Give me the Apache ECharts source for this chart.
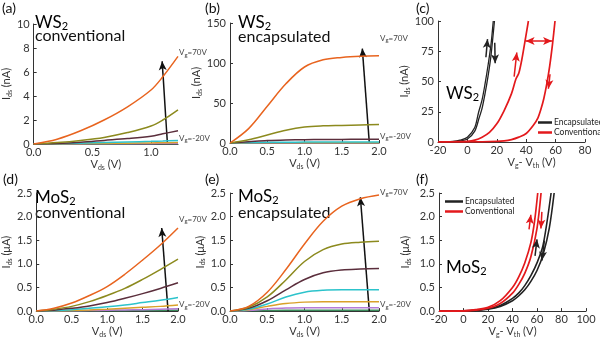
<!DOCTYPE html>
<html><head><meta charset="utf-8">
<script src="https://cdn.jsdelivr.net/npm/echarts@6/dist/echarts.min.js"></script>
<style>html,body{margin:0;padding:0;background:#fff}#c{width:600px;height:339px}</style>
</head><body><div id="c"></div>
<script>
const FONT = 'Lato, "Noto Sans", sans-serif';
const INK = '#333';

// Gate-voltage steps of the output curves (top curve first)
const vgSteps = [70, 55, 40, 25, 10, -5, -20];
const curveColors = ['#e8641f', '#8c8a1e', '#5b2e3c', '#2cc3cb', '#d9a02a', '#b57ad6', '#3c8c5c'];

// (a) WS2 conventional: Ids (nA) vs Vds (V)
const vdsA = [0, 0.2, 0.4, 0.6, 0.8, 1.0, 1.1, 1.23];
const idsA = [
  [0, 0.4, 1.1, 2.0, 3.1, 4.5, 5.6, 7.3],
  [0, 0.12, 0.3, 0.55, 0.95, 1.5, 2.0, 2.85],
  [0, 0.05, 0.15, 0.3, 0.45, 0.65, 0.85, 1.1],
  [0, 0.03, 0.07, 0.12, 0.17, 0.22, 0.25, 0.3],
  [0, 0.01, 0.03, 0.05, 0.07, 0.09, 0.1, 0.12],
  [0, 0.01, 0.01, 0.02, 0.03, 0.03, 0.04, 0.05],
  [0, 0, 0.01, 0.01, 0.01, 0.02, 0.02, 0.02]
];

// (b) WS2 encapsulated: Ids (nA) vs Vds (V)
const vdsB = [0, 0.25, 0.5, 0.75, 1.0, 1.25, 1.5, 1.75, 2.0];
const idsB = [
  [0, 18, 46, 74, 95, 104, 107, 108.5, 109],
  [0, 4, 10, 16, 20, 21.5, 22, 22.5, 23],
  [0, 1.5, 3, 3.8, 4.2, 4.4, 4.5, 4.6, 4.7],
  [0, 0.4, 0.8, 1.0, 1.1, 1.15, 1.2, 1.2, 1.2],
  [0, 0.2, 0.3, 0.4, 0.4, 0.4, 0.4, 0.4, 0.4],
  [0, 0.1, 0.1, 0.15, 0.15, 0.15, 0.15, 0.15, 0.15],
  [0, 0.05, 0.05, 0.05, 0.05, 0.05, 0.05, 0.05, 0.05]
];

// (d) MoS2 conventional: Ids (uA) vs Vds (V)
const vdsD = [0, 0.25, 0.5, 0.75, 1.0, 1.25, 1.5, 1.75, 2.0];
const idsD = [
  [0, 0.06, 0.17, 0.33, 0.52, 0.78, 1.08, 1.4, 1.76],
  [0, 0.04, 0.1, 0.2, 0.33, 0.48, 0.67, 0.88, 1.1],
  [0, 0.02, 0.06, 0.11, 0.18, 0.27, 0.37, 0.48, 0.6],
  [0, 0.01, 0.03, 0.06, 0.09, 0.13, 0.18, 0.23, 0.29],
  [0, 0.005, 0.015, 0.025, 0.04, 0.06, 0.08, 0.1, 0.13],
  [0, 0.003, 0.007, 0.012, 0.018, 0.025, 0.03, 0.04, 0.05],
  [0, 0.001, 0.003, 0.005, 0.007, 0.009, 0.012, 0.015, 0.02]
];

// (e) MoS2 encapsulated: Ids (uA) vs Vds (V)
const vdsE = [0, 0.25, 0.5, 0.75, 1.0, 1.25, 1.5, 1.75, 2.0];
const idsE = [
  [0, 0.1, 0.4, 0.88, 1.42, 1.9, 2.22, 2.38, 2.46],
  [0, 0.08, 0.3, 0.66, 1.05, 1.3, 1.42, 1.46, 1.48],
  [0, 0.06, 0.22, 0.45, 0.67, 0.81, 0.87, 0.89, 0.9],
  [0, 0.04, 0.15, 0.3, 0.4, 0.44, 0.45, 0.45, 0.45],
  [0, 0.03, 0.1, 0.16, 0.19, 0.2, 0.2, 0.2, 0.2],
  [0, 0.015, 0.045, 0.065, 0.07, 0.07, 0.07, 0.07, 0.07],
  [0, 0.005, 0.015, 0.02, 0.02, 0.02, 0.02, 0.02, 0.02]
];

// (c) WS2 transfer curves: Ids (nA) vs Vg - Vth (V), forward and reverse sweeps
const cEncUpV = [-20, -10, -5, 0, 5, 7.5, 10, 12, 14, 16, 17.6];
const cEncUpI = [0.2, 0.5, 1.5, 4, 12, 24, 35, 48, 63, 80, 100];
const cEncDnV = [-20, -10, -5, 0, 5, 8, 10, 12, 14, 16, 18.4];
const cEncDnI = [0.2, 0.3, 0.8, 2.5, 9, 20, 28, 40, 54, 71, 100];
const cConUpV = [-20, -10, 0, 5, 10, 15, 20, 25, 30, 33, 35, 37, 39, 41.5];
const cConUpI = [0, 0.2, 0.5, 1.5, 4, 8, 15, 26, 40, 52, 57, 68, 82, 100];
const cConDnV = [-20, 0, 15, 25, 30, 35, 40, 45, 48, 50, 52, 54, 56, 58, 59.6];
const cConDnI = [0, 0.1, 0.3, 1, 2, 4, 7, 14, 20, 27, 36, 48, 63, 82, 100];

// (f) MoS2 transfer curves: Ids (uA) vs Vg - Vth (V)
const fEncUpV = [-20, 0, 10, 20, 30, 40, 45, 50, 55, 60, 65, 71.5];
const fEncUpI = [0, 0.005, 0.018, 0.05, 0.12, 0.27, 0.38, 0.54, 0.75, 1.02, 1.4, 2.5];
const fEncDnV = [-20, 0, 10, 20, 30, 40, 45, 50, 55, 60, 65, 70, 74];
const fEncDnI = [0, 0.005, 0.015, 0.04, 0.1, 0.22, 0.32, 0.45, 0.63, 0.86, 1.2, 1.75, 2.5];
const fConUpV = [-20, 0, 10, 20, 30, 40, 45, 50, 55, 58, 60.6];
const fConUpI = [0, 0.005, 0.03, 0.08, 0.22, 0.5, 0.72, 1.02, 1.45, 1.9, 2.5];
const fConDnV = [-20, 0, 10, 20, 30, 40, 45, 50, 55, 60, 63.3];
const fConDnI = [0, 0.005, 0.02, 0.06, 0.16, 0.38, 0.56, 0.8, 1.15, 1.75, 2.5];

// Sweep-direction arrows, in data units: [start, end]
const gateArrowA = [[1.14, 0], [1.095, 6.9]];
const gateArrowB = [[1.87, 0], [1.776, 118]];
const gateArrowD = [[1.86, 0], [1.77, 1.76]];
const gateArrowE = [[1.87, 0], [1.75, 2.41]];
const cArrowsBlack = [[[12.6, 70], [13.7, 85]], [[18.6, 82], [18.9, 65]]];
const cArrowsRed = [[[31.8, 54], [33.6, 74]], [[56.2, 56], [55.1, 44]]];
const cWindow = [[39.6, 83.5], [57.6, 83.5]];
const fArrowsBlack = [[[58.4, 1.17], [60, 1.52]], [[66, 1.49], [64, 1.07]]];
const fArrowsRed = [[[53.5, 1.73], [55, 2.04]], [[64, 2.1], [63.2, 1.75]]];

const subRich = (main, sub, color) => ({
  m: { fontSize: main, lineHeight: main + 1, verticalAlign: 'top', fontFamily: FONT, color },
  s: { fontSize: sub, lineHeight: sub + 1, verticalAlign: 'bottom', padding: [Math.round(main * 0.45), 0, 0, 0], fontFamily: FONT, color }
});

const grids = [
  { left: 30, top: 24, width: 148, height: 120 },
  { left: 230, top: 23, width: 149, height: 120 },
  { left: 438, top: 21, width: 147, height: 121 },
  { left: 30, top: 193, width: 148, height: 120 },
  { left: 230, top: 193, width: 149, height: 120 },
  { left: 439, top: 193, width: 147, height: 120 }
];

function axisBase(idx) {
  return {
    type: 'value', gridIndex: idx,
    axisLine: { show: true, onZero: false, lineStyle: { color: INK, width: 1 } },
    axisTick: { show: true, inside: true, length: 3, lineStyle: { color: INK } },
    splitLine: { show: false },
    nameTextStyle: { rich: subRich(11, 7, INK) }
  };
}
function xAxis(idx, min, max, interval, digits, name, extra) {
  return Object.assign(axisBase(idx), {
    min, max, interval,
    axisLabel: { color: INK, fontSize: 11, fontFamily: FONT, margin: 3,
      formatter: v => v.toFixed(digits) },
    name, nameLocation: 'middle', nameGap: 14
  }, extra || {});
}
function yAxis(idx, min, max, interval, digits, name, gap) {
  return Object.assign(axisBase(idx), {
    min, max, interval,
    axisLabel: { color: INK, fontSize: 11, fontFamily: FONT, margin: 4,
      formatter: v => v.toFixed(digits) },
    name, nameLocation: 'middle', nameGap: gap, nameRotate: 90
  });
}

const xAxes = [
  xAxis(0, 0, 1.23, 0.5, 1, '{m|V}{s|ds}{m| (V)}', {
    axisLabel: { color: INK, fontSize: 11, fontFamily: FONT, margin: 3, customValues: [0, 0.5, 1.0], formatter: v => v.toFixed(1) },
    axisTick: { show: true, inside: true, length: 3, lineStyle: { color: INK }, customValues: [0, 0.5, 1.0] }
  }),
  xAxis(1, 0, 2, 0.5, 1, '{m|V}{s|ds}{m| (V)}'),
  xAxis(2, -20, 80, 20, 0, '{m|V}{s|g}{m|- V}{s|th}{m| (V)}', { nameTextStyle: { rich: subRich(11, 7, INK), padding: [0, 0, 0, 40] } }),
  xAxis(3, 0, 2, 0.5, 1, '{m|V}{s|ds}{m| (V)}'),
  xAxis(4, 0, 2, 0.5, 1, '{m|V}{s|ds}{m| (V)}'),
  xAxis(5, -20, 100, 20, 0, '{m|V}{s|g}{m|- V}{s|th}{m| (V)}')
];
const yAxes = [
  yAxis(0, 0, 10, 2, 0, '{m|I}{s|ds}{m| (nA)}', 13),
  yAxis(1, 0, 150, 50, 0, '{m|I}{s|ds}{m| (nA)}', 25),
  yAxis(2, 0, 100, 25, 0, '{m|I}{s|ds}{m| (nA)}', 25),
  yAxis(3, 0, 2.5, 0.5, 1, '{m|I}{s|ds}{m| (\u03bcA)}', 20),
  yAxis(4, 0, 2.5, 0.5, 1, '{m|I}{s|ds}{m| (\u03bcA)}', 18),
  yAxis(5, 0, 2.5, 0.5, 1, '{m|I}{s|ds}{m| (\u03bcA)}', 27)
];

const vgRich = subRich(8, 6, '#444');
function arrowLine(pairs, color, heads) {
  return {
    silent: true, animation: false,
    symbol: heads || ['none', 'arrow'], symbolSize: [6, 9],
    label: { show: false },
    lineStyle: { color, width: 1.5, type: 'solid' },
    emphasis: { disabled: true },
    data: pairs.map(p => [{ coord: p[0] }, { coord: p[1] }])
  };
}

// Output-characteristic families for one panel
function outputFamily(idx, vds, ids, topOffset, botOffset, arrow) {
  return ids.map((row, k) => {
    const s = {
      type: 'line', name: 'Vg' + vgSteps[k] + '_' + idx,
      xAxisIndex: idx, yAxisIndex: idx,
      data: vds.map((v, i) => [v, row[i]]),
      smooth: 0.35, showSymbol: false, symbol: 'none',
      lineStyle: { color: curveColors[k], width: 1.5 },
      itemStyle: { color: curveColors[k] },
      z: 10 - k, silent: true
    };
    if (k === 0) {
      s.endLabel = { show: true, distance: 1, offset: [0, topOffset],
        formatter: '{m|V}{s|g}{m|=' + vgSteps[k] + 'V}', rich: vgRich };
      s.markLine = arrowLine([arrow], '#111');
    }
    if (k === ids.length - 1) {
      s.endLabel = { show: true, distance: 1, offset: [0, botOffset],
        formatter: '{m|V}{s|g}{m|=' + vgSteps[k] + 'V}', rich: vgRich };
    }
    return s;
  });
}

function transfer(idx, name, xs, ys, color, width, marks) {
  const s = {
    type: 'line', name, xAxisIndex: idx, yAxisIndex: idx,
    data: xs.map((v, i) => [v, ys[i]]),
    smooth: 0.3, showSymbol: false, symbol: 'none',
    lineStyle: { color, width }, itemStyle: { color }, silent: true
  };
  if (marks) s.markLine = marks;
  return s;
}

const BLACK = '#222', RED = '#e3191c';
const series = [].concat(
  outputFamily(0, vdsA, idsA, -3, -5, gateArrowA),
  outputFamily(1, vdsB, idsB, -17, -6, gateArrowB),
  outputFamily(3, vdsD, idsD, -8, -5, gateArrowD),
  outputFamily(4, vdsE, idsE, -2, -5, gateArrowE),
  [
    transfer(2, 'Encapsulated', cEncUpV, cEncUpI, BLACK, 1.3, arrowLine(cArrowsBlack, BLACK)),
    transfer(2, 'Encapsulated', cEncDnV, cEncDnI, BLACK, 1.3),
    transfer(2, 'Conventional', cConUpV, cConUpI, RED, 1.7, arrowLine(cArrowsRed, RED)),
    transfer(2, 'Conventional', cConDnV, cConDnI, RED, 1.7, arrowLine([cWindow], RED, ['arrow', 'arrow'])),
    transfer(5, 'Encapsulated', fEncUpV, fEncUpI, BLACK, 1.6, arrowLine(fArrowsBlack, BLACK)),
    transfer(5, 'Encapsulated', fEncDnV, fEncDnI, BLACK, 1.6),
    transfer(5, 'Conventional', fConUpV, fConUpI, RED, 1.7, arrowLine(fArrowsRed, RED)),
    transfer(5, 'Conventional', fConDnV, fConDnI, RED, 1.7)
  ]
);

function legendAt(left, top, w) {
  return {
    left, top, orient: 'vertical', icon: 'rect', itemWidth: w, itemHeight: 2.5, itemGap: 1,
    selectedMode: false, data: ['Encapsulated', 'Conventional'],
    textStyle: { fontSize: 8.5, fontFamily: FONT, color: '#222', padding: [0, 0, 0, -3] }
  };
}

function label(x, y, text, size) {
  return { type: 'text', left: x, top: y, silent: true,
    style: { text, font: size + 'px ' + FONT, fill: '#111' } };
}
function richLabel(x, y, text, main, sub) {
  return { type: 'text', left: x, top: y, silent: true,
    style: { text, rich: subRich(main, sub, '#111') } };
}

const graphics = [
  label(2, 1, '(a)', 14), label(205, 1, '(b)', 14), label(416, 1, '(c)', 14),
  label(3, 172, '(d)', 14), label(205, 172, '(e)', 14), label(416, 172, '(f)', 14),
  richLabel(35, 13, '{m|WS}{s|2}', 17, 11), label(35, 28, 'conventional', 16),
  richLabel(238, 13, '{m|WS}{s|2}', 17, 11), label(238, 29, 'encapsulated', 16),
  richLabel(446, 84, '{m|WS}{s|2}', 17, 11),
  richLabel(35, 188, '{m|MoS}{s|2}', 17, 11), label(35, 205, 'conventional', 16),
  richLabel(238, 187, '{m|MoS}{s|2}', 17, 11), label(238, 205, 'encapsulated', 16),
  richLabel(446, 258, '{m|MoS}{s|2}', 17, 11)
];

const chart = echarts.init(document.getElementById('c'), null, { renderer: 'canvas' });
chart.setOption({
  animation: false,
  backgroundColor: '#fff',
  textStyle: { fontFamily: FONT },
  grid: grids,
  xAxis: xAxes,
  yAxis: yAxes,
  legend: [legendAt(533, 113, 14), legendAt(440, 192, 18)],
  series,
  graphic: graphics
});
</script></body></html>
